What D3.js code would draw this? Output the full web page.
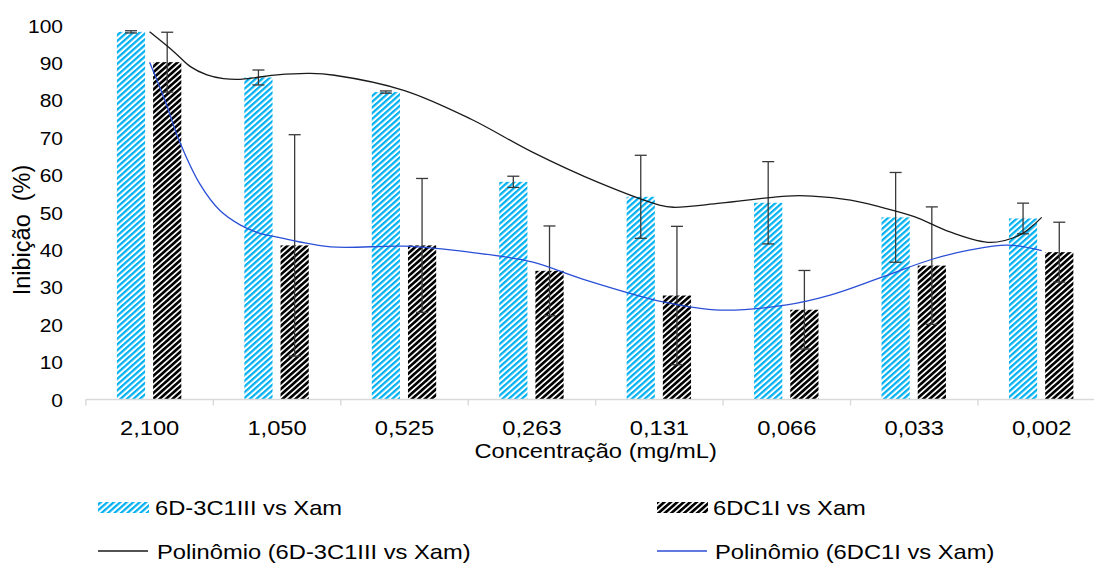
<!DOCTYPE html>
<html>
<head>
<meta charset="utf-8">
<script src="https://cdn.jsdelivr.net/npm/d3@7"></script>
<style>
  html, body { margin: 0; padding: 0; background: #ffffff; }
  svg { display: block; }
  text { font-family: "Liberation Sans", Arial, Helvetica, sans-serif; fill: #000; }
</style>
</head>
<body>
<svg id="chart" width="1094" height="563"></svg>
<script>
// ---- data ---------------------------------------------------------------
const categories = ["2,100", "1,050", "0,525", "0,263", "0,131", "0,066", "0,033", "0,002"];
const seriesNames = ["6D-3C1III vs Xam", "6DC1I vs Xam"];
const trendNames = ["Polinômio (6D-3C1III vs Xam)", "Polinômio (6DC1I vs Xam)"];

const valuesA = [98.3, 86.1, 82.2, 58.2, 54.2, 52.6, 48.7, 48.4];
const errorsA = [0.3, 2.0, 0.3, 1.5, 11.1, 11.0, 12.0, 4.1];
const valuesB = [90.2, 41.2, 41.2, 34.4, 27.8, 24.0, 35.8, 39.4];
const errorsB = [8.0, 29.6, 17.9, 12.0, 18.5, 10.5, 15.7, 8.0];

const yTicks = [0, 10, 20, 30, 40, 50, 60, 70, 80, 90, 100];

// polynomial trend curves, sampled along the category axis (0 = first category)
const trendPosA = [0, 0.19, 0.32, 0.45, 0.58, 0.71, 0.84, 1.0, 1.26, 1.45, 2.0, 2.52, 3.0, 3.53, 4.0, 4.11, 4.48, 5.0, 5.2, 5.5, 5.73, 6.0, 6.28, 6.6, 6.83, 6.93, 7.0];
const trendValA = [98.3, 93.0, 89.0, 86.8, 85.8, 85.6, 86.1, 86.8, 87.2, 86.7, 82.6, 75.0, 66.2, 57.9, 52.0, 51.4, 52.5, 54.4, 54.4, 53.3, 51.5, 48.9, 44.8, 42.0, 44.0, 46.5, 48.7];
const trendPosB = [0, 0.12, 0.23, 0.4, 0.55, 0.71, 0.86, 1.0, 1.42, 2.0, 2.51, 3.0, 3.38, 4.03, 4.48, 5.0, 5.34, 5.73, 6.14, 6.44, 6.73, 7.0];
const trendValB = [90.2, 80.0, 69.4, 57.3, 50.6, 46.7, 44.5, 43.4, 40.8, 41.0, 39.4, 36.8, 32.4, 26.1, 23.9, 25.3, 27.9, 32.5, 37.5, 40.0, 41.3, 39.8];

// ---- layout -------------------------------------------------------------
const SX = 1.13;                       // horizontal text stretch
const plotLeft = 85.9, plotRight = 1105.4;
const yZero = 399.5, yTop = 25.5;
const colorA = "#00B0F0";
const colorB = "#000000";

const svg = d3.select("#chart");

const x = d3.scaleBand().domain(categories).range([plotLeft, plotRight]).paddingInner(0).paddingOuter(0);
const sub = d3.scaleBand().domain([0, 1]).range([31, 95.4]).paddingInner(0.221).paddingOuter(0);
const y = d3.scaleLinear().domain([0, 100]).range([yZero, yTop]);
const xc = d3.scaleLinear().domain([0, categories.length - 1])
  .range([x(categories[0]) + x.bandwidth() / 2, x(categories[categories.length - 1]) + x.bandwidth() / 2]);

// ---- hatch patterns -----------------------------------------------------
const defs = svg.append("defs");
function hatch(id, color, stripe) {
  const p = defs.append("pattern")
    .attr("id", id)
    .attr("patternUnits", "userSpaceOnUse")
    .attr("width", 4.05).attr("height", 4.05)
    .attr("patternTransform", `scale(${SX},1) rotate(45)`);
  p.append("rect").attr("width", 4.05).attr("height", 4.05).attr("fill", "#ffffff");
  p.append("rect").attr("width", stripe).attr("height", 4.05).attr("fill", color);
}
hatch("hatchA", colorA, 2.1);
hatch("hatchB", colorB, 2.5);

// ---- bars ---------------------------------------------------------------
const series = [
  { key: 0, values: valuesA, errors: errorsA, fill: "url(#hatchA)" },
  { key: 1, values: valuesB, errors: errorsB, fill: "url(#hatchB)" }
];

const gBars = svg.append("g");
series.forEach(s => {
  gBars.selectAll(null)
    .data(categories.map((c, i) => ({ c, v: s.values[i] })))
    .join("rect")
    .attr("x", d => x(d.c) + sub(s.key))
    .attr("width", sub.bandwidth())
    .attr("y", d => y(d.v))
    .attr("height", d => y(0) - y(d.v))
    .attr("fill", s.fill);
});

// ---- axes ---------------------------------------------------------------
const gx = svg.append("g");
gx.append("line")
  .attr("x1", plotLeft).attr("x2", plotRight)
  .attr("y1", yZero).attr("y2", yZero)
  .attr("stroke", "#d9d9d9").attr("stroke-width", 1.4);
const bounds = categories.map(c => x(c)).concat([x.range()[1]]);
gx.selectAll(".bt").data(bounds).join("line")
  .attr("x1", d => d).attr("x2", d => d)
  .attr("y1", yZero).attr("y2", yZero + 6)
  .attr("stroke", "#d9d9d9").attr("stroke-width", 1.4);

const xAxis = svg.append("g")
  .attr("transform", `translate(0,${yZero})`)
  .call(d3.axisBottom(x).tickSize(0).tickPadding(0));
xAxis.select(".domain").remove();
xAxis.selectAll(".tick text")
  .attr("y", 35.5).attr("dy", 0)
  .attr("transform", `scale(${SX},1)`)
  .style("font-size", "21px")
  .style("fill", "#000");

const yAxis = svg.append("g")
  .attr("transform", "translate(63,0)")
  .call(d3.axisLeft(y).tickValues(yTicks).tickSize(0).tickPadding(0).tickFormat(d3.format("d")));
yAxis.select(".domain").remove();
yAxis.selectAll(".tick text")
  .attr("x", 0).attr("dy", "0.35em")
  .attr("transform", `scale(${SX},1)`)
  .style("font-size", "18.6px")
  .style("fill", "#000");

// axis titles
svg.append("text")
  .attr("transform", `translate(${(plotLeft + plotRight) / 2},458) scale(${SX},1)`)
  .attr("text-anchor", "middle")
  .style("font-size", "21px")
  .text("Concentração (mg/mL)");

svg.append("text")
  .attr("transform", "translate(30,230) rotate(-90)")
  .attr("text-anchor", "middle")
  .style("font-size", "23.5px")
  .style("white-space", "pre")
  .text("Inibição  (%)");

// ---- error bars ---------------------------------------------------------
const gErr = svg.append("g").attr("stroke", "#3a3a3a").attr("stroke-width", 1.3);
series.forEach(s => {
  categories.forEach((c, i) => {
    const cx = x(c) + sub(s.key) + sub.bandwidth() / 2;
    const lo = y(s.values[i] - s.errors[i]);
    const hi = y(s.values[i] + s.errors[i]);
    gErr.append("line").attr("x1", cx).attr("x2", cx).attr("y1", lo).attr("y2", hi);
    gErr.append("line").attr("x1", cx - 6).attr("x2", cx + 6).attr("y1", hi).attr("y2", hi);
    gErr.append("line").attr("x1", cx - 6).attr("x2", cx + 6).attr("y1", lo).attr("y2", lo);
  });
});

// ---- trend curves -------------------------------------------------------
const line = d3.line()
  .x(d => xc(d[0]))
  .y(d => y(d[1]))
  .curve(d3.curveCatmullRom.alpha(0.5));

svg.append("path")
  .datum(d3.zip(trendPosA, trendValA))
  .attr("d", line)
  .attr("fill", "none").attr("stroke", "#1a1a1a").attr("stroke-width", 1.3);
svg.append("path")
  .datum(d3.zip(trendPosB, trendValB))
  .attr("d", line)
  .attr("fill", "none").attr("stroke", "#2a4fd6").attr("stroke-width", 1.3);

// ---- legend -------------------------------------------------------------
const legend = svg.append("g");
const legendItems = [
  { kind: "bar", fill: "url(#hatchA)", label: seriesNames[0], sx: 98, tx: 155, row: 0 },
  { kind: "bar", fill: "url(#hatchB)", label: seriesNames[1], sx: 657, tx: 713, row: 0 },
  { kind: "line", stroke: "#1a1a1a", label: trendNames[0], sx: 98, tx: 157, row: 1 },
  { kind: "line", stroke: "#2a4fd6", label: trendNames[1], sx: 657, tx: 715, row: 1 }
];
const rowY = [507.5, 551];
legendItems.forEach(it => {
  if (it.kind === "bar") {
    legend.append("rect")
      .attr("x", it.sx).attr("y", rowY[it.row] - 5.5)
      .attr("width", 51).attr("height", 11)
      .attr("fill", it.fill);
  } else {
    legend.append("line")
      .attr("x1", it.sx).attr("x2", it.sx + 50)
      .attr("y1", rowY[it.row]).attr("y2", rowY[it.row])
      .attr("stroke", it.stroke).attr("stroke-width", 1.3);
  }
  legend.append("text")
    .attr("transform", `translate(${it.tx},${rowY[it.row] + 7.5}) scale(${SX},1)`)
    .style("font-size", "21px")
    .text(it.label);
});
</script>
</body>
</html>
